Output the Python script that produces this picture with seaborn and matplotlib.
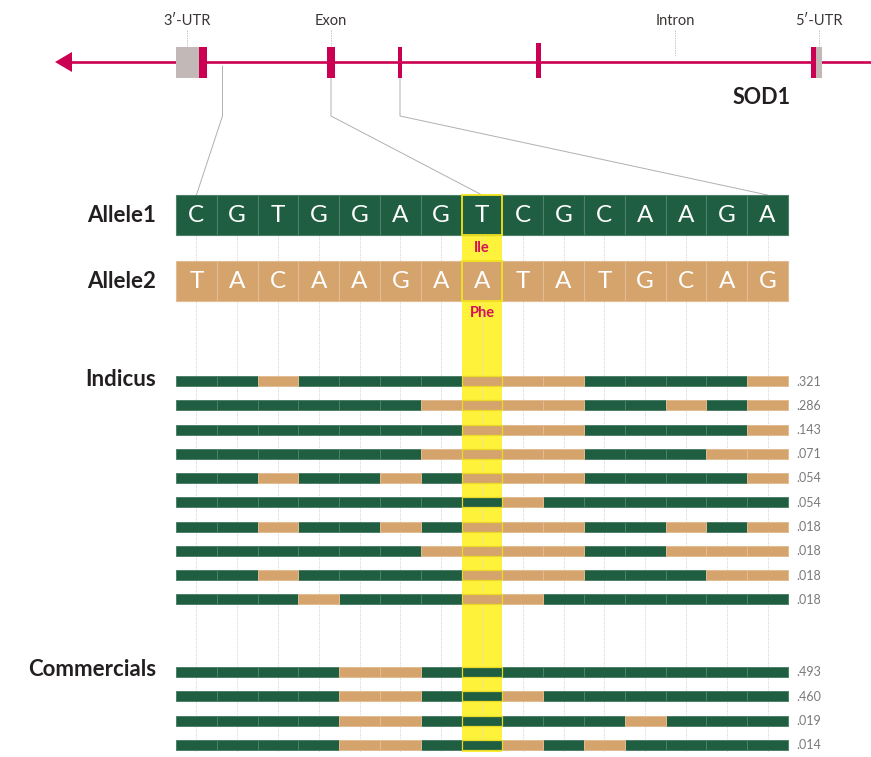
import numpy as np
import pandas as pd
import matplotlib
matplotlib.use("Agg")
import matplotlib.pyplot as plt
import seaborn as sns
from matplotlib.patches import Rectangle, Polygon

# ---------------- data ----------------
allele1_bases = list("CGTGGAGTCGCAAGA")
allele2_bases = list("TACAAGAATATGCAG")
snp_index = 7                      # 0-based position of the coding SNP
aa_allele1, aa_allele2 = "Ile", "Phe"

# haplotypes: "1" = Allele1 base, "2" = Allele2 base at each of the 15 sites
indicus_haplotypes = [
    "112111122211112",
    "111111222211212",
    "111111122211112",
    "111111222211122",
    "112112122211112",
    "111111112111111",
    "112112122211212",
    "111111222211222",
    "112111122211122",
    "111211122111111",
]
indicus_freqs = [".321", ".286", ".143", ".071", ".054", ".054", ".018", ".018", ".018", ".018"]

commercial_haplotypes = [
    "111122111111111",
    "111122112111111",
    "111122111112111",
    "111122112121111",
]
commercial_freqs = [".493", ".460", ".019", ".014"]

# gene model (drawn along the top track, transcribed right-to-left)
utr_boxes = [(176, 199), (816, 822)]
exon_boxes = [(199, 207), (327, 335), (398, 402), (536, 541), (811, 816)]
feature_labels = ["3\u2032-UTR", "Exon", "Intron", "5\u2032-UTR"]
feature_label_x = [187, 331, 675, 819]
gene_name = "SOD1"

# ---------------- style ----------------
sns.set_theme(style="white")
plt.rcParams["font.family"] = ["Lato", "DejaVu Sans"]

GREEN = "#1f5e41"
TAN = "#d5a36c"
YELLOW = "#fff23a"
RED = "#cc0052"
UTR_GREY = "#c3b8b8"
allele_colors = {"1": GREEN, "2": TAN}
edge_colors = {"1": "#4f806a", "2": "#e2bc92"}

W, H = 871, 757
fig = plt.figure(figsize=(W / 100, H / 100), dpi=100)
ax = fig.add_axes([0, 0, 1, 1])
ax.set_xlim(0, W)
ax.set_ylim(H, 0)
ax.axis("off")

# cell geometry
x0, x1 = 176, 788
n = len(allele1_bases)
cw = (x1 - x0) / n
cell_left = x0 + cw * np.arange(n)
cell_mid = cell_left + cw / 2

# ---------------- gene track ----------------
gene_y = 62
ax.plot([68, W], [gene_y, gene_y], color=RED, lw=1.9, solid_capstyle="butt", zorder=2)
ax.add_patch(Polygon([[55, gene_y], [72, gene_y - 10], [72, gene_y + 10]],
                     closed=True, color=RED, lw=0, zorder=3))
for a, b in utr_boxes:
    ax.add_patch(Rectangle((a, 47), b - a, 31, facecolor=UTR_GREY, lw=0, zorder=3))
for i, (a, b) in enumerate(exon_boxes):
    top = 43 if i == 3 else 47
    ax.add_patch(Rectangle((a, top), b - a, 78 - top, facecolor=RED, lw=0, zorder=4))

leader_bottom = [46, 46, 56, 46]
for lab, lx, lb in zip(feature_labels, feature_label_x, leader_bottom):
    ax.text(lx, 21, lab, ha="center", va="center", fontsize=10.5, color="#3a3434")
    ax.plot([lx, lx], [30, lb], color="#c8c8c8", lw=0.7, ls=(0, (1.5, 1)), zorder=1)

ax.text(762, 98, gene_name, ha="center", va="center", fontsize=15.5,
        fontweight="bold", color="#231f20")

# connectors from gene regions to the sequence window
conn_color = "#b0b0b0"
connectors = [
    ((222.5, 66), (222.5, 116), (cell_mid[0], 195)),
    ((331, 78), (331, 116), (cell_mid[snp_index], 195)),
    ((400, 78), (400, 116), (cell_mid[-1], 195)),
]
for p0, p1, p2 in connectors:
    ax.plot([p0[0], p1[0], p2[0]], [p0[1], p1[1], p2[1]], color=conn_color, lw=0.7, zorder=1)

# ---------------- highlight column and guides ----------------
ax.add_patch(Rectangle((cell_left[snp_index], 235), cw, 752 - 235,
                       facecolor=YELLOW, lw=0, zorder=1))
for xm in cell_mid:
    ax.plot([xm, xm], [235, 752], color="#d9d9d9", lw=0.6, ls=(0, (2, 1.2)), zorder=2)

# ---------------- allele rows ----------------
allele_rows = [("Allele1", allele1_bases, "1", 195), ("Allele2", allele2_bases, "2", 261)]
for label, bases, code, top in allele_rows:
    ax.barh([top + 20] * n, [cw] * n, left=cell_left, height=40,
            color=allele_colors[code], edgecolor=edge_colors[code], lw=0.8, zorder=3)
    for xm, b in zip(cell_mid, bases):
        ax.text(xm, top + 21, b, ha="center", va="center", fontsize=17.5,
                fontweight="normal", color="white", zorder=5)
    ax.text(156, top + 21, label, ha="right", va="center", fontsize=16,
            fontweight="bold", color="#231f20")
    ax.add_patch(Rectangle((cell_left[snp_index], top), cw, 40, facecolor="none",
                           edgecolor="#f2e21c", lw=1.3, zorder=4))

ax.text(cell_mid[snp_index], 248, aa_allele1, ha="center", va="center",
        fontsize=10.5, fontweight="bold", color="#d41159", zorder=5)
ax.text(cell_mid[snp_index], 313, aa_allele2, ha="center", va="center",
        fontsize=10.5, fontweight="bold", color="#d41159", zorder=5)

# ---------------- haplotype rows ----------------
records = []
groups = [("Indicus", indicus_haplotypes, indicus_freqs, 381),
          ("Commercials", commercial_haplotypes, commercial_freqs, 672)]
step = 24.25
for gname, haps, freqs, y_first in groups:
    for r, (hap, fr) in enumerate(zip(haps, freqs)):
        for p, code in enumerate(hap):
            records.append({"group": gname, "row": r, "y": y_first + r * step,
                            "pos": p, "allele": code, "freq": fr})
cells = pd.DataFrame(records)

for code, sub in cells.groupby("allele"):
    ax.barh(sub["y"], [cw] * len(sub), left=cell_left[sub["pos"].to_numpy()], height=10,
            color=allele_colors[code], edgecolor=edge_colors[code], lw=0.7, zorder=3)

snp_cells = cells[cells["pos"] == snp_index]
for yv in snp_cells["y"]:
    ax.add_patch(Rectangle((cell_left[snp_index], yv - 5), cw, 10, facecolor="none",
                           edgecolor="#e9da2a", lw=0.9, zorder=4))

rows = cells.drop_duplicates(["group", "row"])
for _, rw in rows.iterrows():
    ax.text(796, rw["y"] + 0.5, rw["freq"], ha="left", va="center", fontsize=9,
            color="#7a7a7a")

for gname, haps, freqs, y_first in groups:
    ax.text(156, y_first - 2, gname, ha="right", va="center", fontsize=16,
            fontweight="bold", color="#231f20")

fig.savefig("out.png", dpi=100, facecolor="white")
